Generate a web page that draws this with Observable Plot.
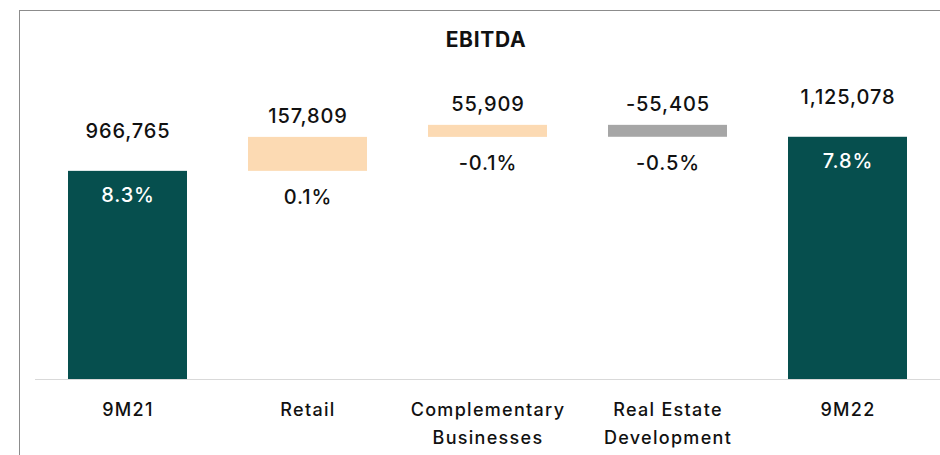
<!DOCTYPE html>
<html>
<head>
<meta charset="utf-8">
<script src="https://cdn.jsdelivr.net/npm/d3@7"></script>
<script src="https://cdn.jsdelivr.net/npm/@observablehq/plot@0.6"></script>
<style>
  html, body { margin: 0; padding: 0; background: #fff; }
  #wrap { position: relative; width: 940px; height: 455px; overflow: hidden; font-family: Inter, "Noto Sans", sans-serif; }
  #frame { position: absolute; left: 19px; top: 10px; right: 0; bottom: -2px; border-top: 1.5px solid #8c8c8c; border-left: 1.5px solid #8c8c8c; }
  #title { position: absolute; left: 486px; top: 28px; transform: translateX(-50%); font-size: 21px; font-weight: 700; color: #111; line-height: 24px; letter-spacing: 0.7px; white-space: nowrap; }
  #chart { position: absolute; left: 0; top: 0; }
  #chart g[aria-label="x-axis tick label"] { letter-spacing: 1.3px; }
  #chart g[aria-label="text"] { letter-spacing: 0.9px; }
</style>
</head>
<body>
<div id="wrap">
  <div id="frame"></div>
  <div id="chart"></div>
  <div id="title">EBITDA</div>
</div>
<script>
const categories = ["9M21", "Retail", "Complementary Businesses", "Real Estate Development", "9M22"];
const axisLabels = ["9M21", "Retail", "Complementary\nBusinesses", "Real Estate\nDevelopment", "9M22"];
const values = [966765, 157809, 55909, -55405, 1125078];
const kinds = ["total", "delta", "delta", "delta", "total"];
const valueLabels = ["966,765", "157,809", "55,909", "-55,405", "1,125,078"];
const marginLabels = ["8.3%", "0.1%", "-0.1%", "-0.5%", "7.8%"];

const colTotal = "#064f4e";
const colUp = "#fcdab3";
const colDown = "#a6a6a6";

let running = 0;
const rows = categories.map((c, i) => {
  let y1, y2;
  if (kinds[i] === "total") { y1 = 0; y2 = values[i]; running = values[i]; }
  else { y1 = running; y2 = running + values[i]; running = y2; }
  return {
    cat: c, axis: axisLabels[i], kind: kinds[i], value: values[i],
    y1, y2, top: Math.max(y1, y2), bottom: Math.min(y1, y2),
    vlabel: valueLabels[i], mlabel: marginLabels[i],
    fill: kinds[i] === "total" ? colTotal : (values[i] >= 0 ? colUp : colDown)
  };
});
const totals = rows.filter(d => d.kind === "total");
const deltas = rows.filter(d => d.kind === "delta");
const axisMap = new Map(rows.map(d => [d.cat, d.axis]));

const chart = Plot.plot({
  width: 940,
  height: 455,
  marginTop: 13,
  marginBottom: 76,
  marginLeft: 35,
  marginRight: 0,
  style: { fontFamily: "Inter, 'Noto Sans', sans-serif", background: "transparent", color: "#111" },
  x: { domain: categories, paddingInner: 0.339, paddingOuter: 0.1833 },
  y: { domain: [0, 1700000], axis: null },
  marks: [
    Plot.ruleY([0], { stroke: "#d9d9d9", strokeWidth: 1 }),
    Plot.barY(rows, { x: "cat", y1: "y1", y2: "y2", fill: "fill" }),
    Plot.text(totals, { x: "cat", y: "top", text: "vlabel", dy: -40, fontSize: 20, fontWeight: 500, fill: "#111" }),
    Plot.text(deltas, { x: "cat", y: "top", text: "vlabel", dy: -21, fontSize: 20, fontWeight: 500, fill: "#111" }),
    Plot.text(totals, { x: "cat", y: "top", text: "mlabel", dy: 24.5, fontSize: 20, fontWeight: 500, fill: "#ffffff" }),
    Plot.text(deltas, { x: "cat", y: "bottom", text: "mlabel", dy: 26, fontSize: 20, fontWeight: 500, fill: "#111" }),
    Plot.axisX({ tickSize: 0, tickPadding: 17, fontSize: 18, fontWeight: 500, lineHeight: 1.55, tickFormat: d => axisMap.get(d), label: null, fill: "#111" })
  ]
});
document.getElementById("chart").appendChild(chart);
</script>
</body>
</html>
